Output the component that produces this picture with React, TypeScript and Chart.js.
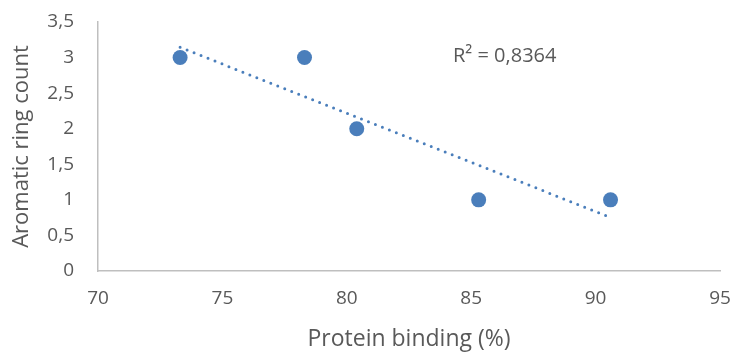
import React, { useEffect, useRef } from "react";
import { Chart, registerables } from "chart.js";
Chart.register(...registerables);

const proteinBinding = [73.3, 78.3, 80.4, 85.3, 90.6];
const ringCount = [3, 3, 2, 1, 1];
const r2Label = "R² = 0,8364";
const xTitle = "Protein binding (%)";
const yTitle = "Aromatic ring count";

function linreg(xs: number[], ys: number[]) {
  const n = xs.length;
  const mx = xs.reduce((a, b) => a + b, 0) / n;
  const my = ys.reduce((a, b) => a + b, 0) / n;
  let sxy = 0, sxx = 0;
  for (let i = 0; i < n; i++) { sxy += (xs[i] - mx) * (ys[i] - my); sxx += (xs[i] - mx) ** 2; }
  const m = sxy / sxx;
  return { m, b: my - m * mx };
}

const FONT = "'Open Sans'";
const TEXT = "#595959";
const BLUE = "#4a7ebb";

export default function App() {
  const ref = useRef<HTMLCanvasElement>(null);
  useEffect(() => {
    const { m, b } = linreg(proteinBinding, ringCount);
    const xMin = Math.min(...proteinBinding);
    const xMax = Math.max(...proteinBinding);
    const trend = [
      { x: xMin, y: m * xMin + b },
      { x: xMax, y: m * xMax + b },
    ];
    const annot = {
      id: "annot",
      afterDraw(chart: any) {
        const { ctx, chartArea } = chart;
        ctx.save();
        ctx.font = `20px ${FONT}`;
        ctx.fillStyle = TEXT;
        ctx.textBaseline = "middle";
        ctx.textAlign = "left";
        ctx.fillText(r2Label, chartArea.left + 355, chartArea.top + 34);
        ctx.restore();
      },
    };
    const chart = new Chart(ref.current!, {
      type: "scatter",
      data: {
        datasets: [
          {
            label: "trend",
            data: trend,
            showLine: true,
            borderColor: BLUE,
            borderWidth: 3,
            borderDash: [0, 7.5],
            borderCapStyle: "round",
            pointRadius: 0,
            fill: false,
            order: 2,
          } as any,
          {
            label: "data",
            data: proteinBinding.map((x, i) => ({ x, y: ringCount[i] })),
            backgroundColor: BLUE,
            borderColor: BLUE,
            pointRadius: 7.5,
            pointBorderWidth: 0,
            order: 1,
          },
        ],
      },
      plugins: [annot],
      options: {
        animation: false,
        responsive: false,
        maintainAspectRatio: false,
        layout: { autoPadding: false, padding: { top: 22, right: 18, left: 0, bottom: 0 } },
        plugins: { legend: { display: false }, tooltip: { enabled: false } },
        scales: {
          x: {
            type: "linear",
            min: 70,
            max: 95,
            ticks: { stepSize: 5, color: TEXT, font: { family: FONT, size: 19 }, padding: 16 },
            grid: { display: false, drawTicks: false },
            border: { color: "#bfbfbf", width: 1.5 },
            title: { display: true, text: xTitle, color: TEXT, font: { family: FONT, size: 23 }, padding: { top: 4, bottom: 1 } },
            afterFit(s: any) { s.height = 83; s.paddingLeft = 0; s.paddingRight = 0; s.paddingTop = 0; s.paddingBottom = 0; },
          },
          y: {
            min: 0,
            max: 3.5,
            ticks: {
              stepSize: 0.5,
              color: TEXT,
              font: { family: FONT, size: 19 },
              padding: 24,
              callback: (v: any) => String(v).replace(".", ","),
            },
            grid: { display: false, drawTicks: false },
            border: { color: "#bfbfbf", width: 1.5 },
            title: { display: true, text: yTitle, color: TEXT, font: { family: FONT, size: 22 }, padding: { top: 9, bottom: 0 } },
            afterFit(s: any) { s.width = 98; s.paddingLeft = 0; s.paddingRight = 0; s.paddingTop = 0; s.paddingBottom = 0; },
          },
        },
      },
    } as any);
    return () => chart.destroy();
  }, []);
  return (
    <div style={{ position: "fixed", left: 0, top: 0, width: 738, height: 354, background: "#fff" }}>
      <canvas ref={ref} width={738} height={354} style={{ width: 738, height: 354 }} />
    </div>
  );
}
